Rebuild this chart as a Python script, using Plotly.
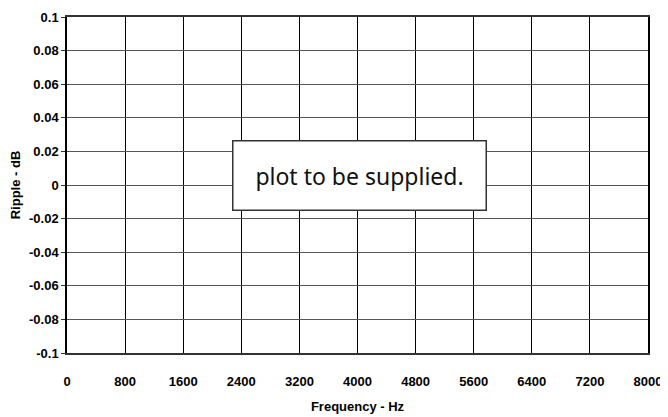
import plotly.graph_objects as go

# axis ticks
freq_ticks = [0, 800, 1600, 2400, 3200, 4000, 4800, 5600, 6400, 7200, 8000]
ripple_ticks = [0.1, 0.08, 0.06, 0.04, 0.02, 0, -0.02, -0.04, -0.06, -0.08, -0.1]
ripple_labels = ["0.1", "0.08", "0.06", "0.04", "0.02", "0", "-0.02", "-0.04", "-0.06", "-0.08", "-0.1"]
note = "plot to be supplied."

fig = go.Figure()
# empty trace so the axes show up
fig.add_trace(go.Scatter(x=[], y=[], mode="lines", showlegend=False))

font_axis = dict(family="Liberation Sans, Arial, sans-serif", size=13, color="black")

fig.update_xaxes(
    range=[0, 8000], tickvals=freq_ticks, ticktext=["<b>%d</b>" % v for v in freq_ticks],
    showgrid=True, gridcolor="black", gridwidth=1,
    showline=True, linecolor="#333", linewidth=1.5, mirror=True,
    zeroline=False, ticks="", tickfont=font_axis, ticklabelstandoff=16,
    title=dict(text="<b>Frequency - Hz</b>", font=font_axis, standoff=14),
    automargin=False,
)
fig.update_yaxes(
    range=[-0.1, 0.1], tickvals=ripple_ticks, ticktext=["<b>" + t + "</b>" for t in ripple_labels],
    showgrid=True, gridcolor="#555", gridwidth=1,
    showline=True, linecolor="black", linewidth=1.5, mirror=True,
    zeroline=False, ticks="outside", ticklen=4, tickcolor="#333", tickfont=font_axis,
    title=dict(text="<b>Ripple - dB</b>", font=font_axis, standoff=8),
    automargin=False,
)

fig.add_annotation(
    x=4028, y=0.0054, xref="x", yref="y", text=note,
    showarrow=False, font=dict(family="Noto Sans, sans-serif", size=23, color="#111"),
    bgcolor="white", bordercolor="#333", borderwidth=1.5,
    width=250, height=66,
)

# the page body adds an 8px offset, so the figure is a bit smaller
fig.update_layout(
    width=660, height=409,
    margin=dict(l=59, r=20, t=9, b=64),
    plot_bgcolor="white", paper_bgcolor="white",
)

fig.write_html("out.html")
